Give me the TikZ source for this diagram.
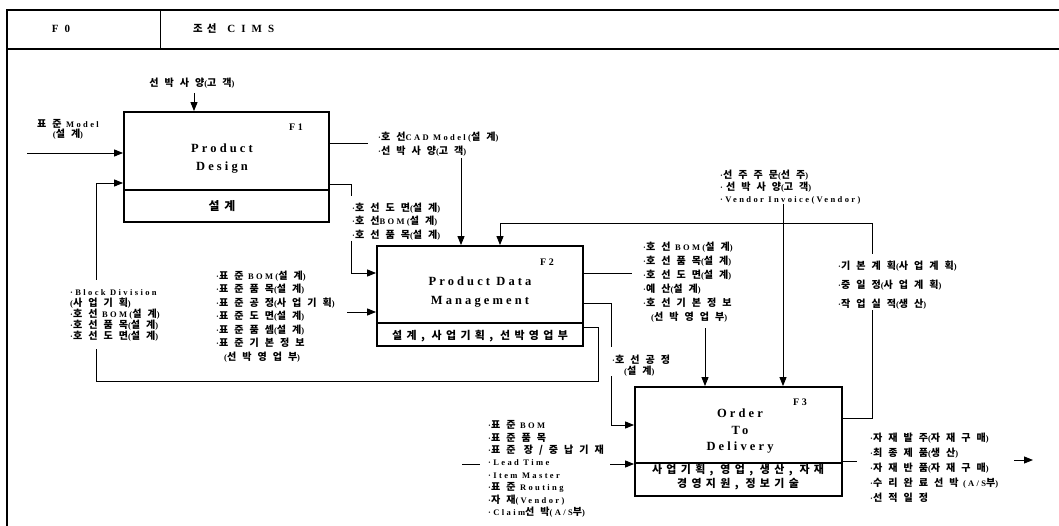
\documentclass[tikz,border=0pt]{standalone}
\usepackage{fontspec}
\usetikzlibrary{arrows.meta}
\setmainfont{Liberation Serif}
\newfontfamily\lblfont{Liberation Serif}[LetterSpace=28]
\newfontfamily\bigfont{Liberation Serif}[LetterSpace=25]
\newfontfamily\hdrfont{Liberation Serif}[LetterSpace=55]
\newfontfamily\krA{Noto Sans CJK KR}[Scale=1.18,LetterSpace=60]
\newfontfamily\krB{Noto Sans CJK KR}[Scale=0.95,LetterSpace=40]
\let\krsel\krA
\newcommand\hg[1]{{\krsel #1}}
\tikzset{
  ln/.style={line width=0.9pt},
  arr/.style={ln, -{Triangle[length=9pt,width=7pt]}},
  fbox/.style={draw, line width=1.8pt, inner sep=0pt},
  boxln/.style={line width=1.4pt},
  lbl/.style={font=\lblfont\bfseries\fontsize{8.5}{#1}\selectfont, align=left, inner sep=0pt, anchor=north west},
  lbl/.default=12,
  lblc/.style={font=\lblfont\bfseries\fontsize{8.5}{#1}\selectfont, align=center, inner sep=0pt},
  lblc/.default=10,
  title/.style={font=\bigfont\bfseries\fontsize{12.5}{#1}\selectfont, align=center, inner sep=0pt},
  title/.default=18,
  mech/.style={font=\let\krsel\krB\bigfont\bfseries\fontsize{11.5}{#1}\selectfont, align=center, inner sep=0pt},
  mech/.default=14,
  fnum/.style={font=\bigfont\bfseries\fontsize{10}{12}\selectfont, inner sep=0pt},
  hdr/.style={font=\let\krsel\krB\hdrfont\bfseries\fontsize{11}{12}\selectfont, inner sep=0pt},
}
\begin{document}
\begin{tikzpicture}[x=1pt,y=-1pt]
\useasboundingbox (0,0) rectangle (1059,526);
% frame
\coordinate (frTL) at (7,10);
\coordinate (frTR) at (1059,10);
\coordinate (frBL) at (7,530);
\coordinate (frHL) at (7,49);
\coordinate (frHR) at (1059,49);
\coordinate (frDT) at (160,10);
\coordinate (frDB) at (160,49);
\draw[line width=1.2pt] (frBL) -- (frTL) -- (frTR);
\draw[line width=2.4pt] (frHL) -- (frHR);
\draw[line width=1pt] (frDT) -- (frDB);
\node[hdr] (hF0) at (61,29) {F0};
\node[hdr, anchor=west] (hTitle) at (193,29) {\hg{조선}\hspace{2pt} CIMS};

% boxes
\node[fbox, minimum width=205pt, minimum height=110pt] (F1) at (226.5,167) {};
\node[fbox, minimum width=206pt, minimum height=100pt] (F2) at (480,296) {};
\node[fbox, minimum width=207pt, minimum height=109pt] (F3) at (738.5,441.5) {};
\draw[boxln] (F1.west |- 0,190) -- (F1.east |- 0,190);
\draw[boxln] (F2.west |- 0,323) -- (F2.east |- 0,323);
\draw[boxln] (F3.west |- 0,463) -- (F3.east |- 0,463);

\node[fnum] (F1n) at (296,127) {F1};
\node[title] (F1t) at (222,159) {Product\\Design};
\node[mech, font=\let\krsel\krB\bigfont\bfseries\fontsize{12.5}{14}\selectfont] (F1m) at (222,206) {\hg{설계}};
\node[fnum] (F2n) at (547,262) {F2};
\node[title=19] (F2t) at (480,292.5) {Product Data\\Management};
\node[mech] (F2m) at (480,336) {\hg{설계, 사업기획, 선박영업부}};
\node[fnum] (F3n) at (800,402) {F3};
\node[title=16.5] (F3t) at (740,431.5) {Order\\To\\Delivery};
\node[mech=13.5] (F3m) at (738,477) {\hg{사업기획, 영업, 생산, 자재}\\\hg{경영지원, 정보기술}};

% F1 inputs
\node[lblc] (tSpec) at (192,83) {\hg{선박사양}(\hg{고객})};
\coordinate (cSpec) at (194,93);
\draw[arr] (cSpec) -- (cSpec |- F1.north);
\node[lblc=10] (tStdModel) at (68,129) {\hg{표준} Model\\(\hg{설계})};
\coordinate (cStd) at (27,153);
\draw[arr] (cStd) -- (cStd -| F1.west);

% F1 output 1
\coordinate (c1a) at (368,143);
\draw[ln] (c1a -| F1.east) -- (c1a);
\node[lbl=14] (tCAD) at (378,131.5) {·\hg{호선}CAD Model(\hg{설계})\\·\hg{선박사양}(\hg{고객})};
\coordinate (c1b) at (461,158);
\draw[arr] (c1b) -- (c1b |- F2.north);

% F1 output 2
\coordinate (c2a) at (351,184);
\coordinate (c2b) at (351,196);
\draw[ln] (c2a -| F1.east) -- (c2a) -- (c2b);
\node[lbl=13.5] (tDwg) at (352,202.5) {·\hg{호선도면}(\hg{설계})\\·\hg{호선}BOM(\hg{설계})\\·\hg{호선품목}(\hg{설계})};
\coordinate (c2c) at (351,241);
\coordinate (c2d) at (351,273);
\draw[arr] (c2c) -- (c2d) -- (c2d -| F2.west);

% F2 standard inputs
\node[lbl=13.5] (tStdBOM) at (216,270.5) {·\hg{표준} BOM(\hg{설계})\\·\hg{표준품목}(\hg{설계})\\·\hg{표준공정}(\hg{사업기획})\\·\hg{표준도면}(\hg{설계})\\·\hg{표준품셈}(\hg{설계})\\·\hg{표준기본정보}\\\hspace*{8pt}(\hg{선박영업부})};
\coordinate (c3) at (347,312);
\draw[arr] (c3) -- (c3 -| F2.west);

% feedback F3 -> F2 top
\coordinate (c4a) at (872,418);
\coordinate (c4b) at (872,310);
\coordinate (c4c) at (872,254);
\coordinate (c4d) at (872,223);
\coordinate (c4e) at (500,223);
\draw[ln] (c4a -| F3.east) -- (c4a) -- (c4b);
\draw[arr] (c4c) -- (c4d) -- (c4e) -- (c4e |- F2.north);
\node[lbl=19] (tPlan) at (838,260.5) {·\hg{기본계획}(\hg{사업계획})\\·\hg{중일정}(\hg{사업계획})\\·\hg{작업실적}(\hg{생산})};

% F2 output 1
\coordinate (c5a) at (632,273);
\draw[ln] (c5a -| F2.east) -- (c5a);
\node[lbl=14] (tF2out) at (643,241.5) {·\hg{호선} BOM(\hg{설계})\\·\hg{호선품목}(\hg{설계})\\·\hg{호선도면}(\hg{설계})\\·\hg{예산}(\hg{설계})\\·\hg{호선기본정보}\\\hspace*{8pt}(\hg{선박영업부})};
\coordinate (c5b) at (705,328);
\draw[arr] (c5b) -- (c5b |- F3.north);

% F2 output 2
\coordinate (c6a) at (611,303);
\coordinate (c6b) at (611,347);
\draw[ln] (c6a -| F2.east) -- (c6a) -- (c6b);
\node[lbl=11] (tProc) at (612,354.5) {·\hg{호선공정}\\\hspace*{12pt}(\hg{설계})};
\coordinate (c6c) at (611,376);
\coordinate (c6d) at (611,425);
\draw[arr] (c6c) -- (c6d) -- (c6d -| F3.west);

% mechanism feedback F2 -> F1
\coordinate (c7a) at (598,327);
\coordinate (c7b) at (598,381);
\coordinate (c7c) at (96,381);
\coordinate (c7d) at (96,349);
\coordinate (c7e) at (96,280);
\coordinate (c7f) at (96,183);
\draw[ln] (c7a -| F2.east) -- (c7a) -- (c7b) -- (c7c) -- (c7d);
\draw[arr] (c7e) -- (c7f) -- (c7f -| F1.west);
\node[lbl=11] (tBlock) at (70,289.5) {·Block Division\\(\hg{사업기획})\\·\hg{호선} BOM(\hg{설계})\\·\hg{호선품목}(\hg{설계})\\·\hg{호선도면}(\hg{설계})};

% F3 top input
\node[lbl=12] (tOrder) at (720,169.5) {·\hg{선주주문}(\hg{선주})\\·\hspace*{3pt}\hg{선박사양}(\hg{고객})\\·Vendor Invoice(Vendor)};
\coordinate (c8) at (783,204);
\draw[arr] (c8) -- (c8 |- F3.north);

% F3 bottom inputs
\coordinate (c9a) at (462,464);
\coordinate (c9b) at (480,464);
\draw[ln] (c9a) -- (c9b);
\node[lbl=12.4] (tF3in) at (488,420.5) {·\hg{표준} BOM\\·\hg{표준품목}\\·\hg{표준 장/중납기재}\\·Lead Time\\·Item Master\\·\hg{표준} Routing\\·\hg{자재}(Vendor)\\·Claim\hg{선박}(A/S\hg{부})};
\coordinate (c9c) at (610,464);
\draw[arr] (c9c) -- (c9c -| F3.west);

% F3 outputs
\coordinate (c10) at (857,461);
\draw[ln] (c10 -| F3.east) -- (c10);
\node[lbl=15] (tF3out) at (870,432.5) {·\hg{자재발주}(\hg{자재구매})\\·\hg{최종제품}(\hg{생산})\\·\hg{자재반품}(\hg{자재구매})\\·\hg{수리완료선박} (A/S\hg{부})\\·\hg{선적일정}};
\coordinate (c11a) at (1014,460);
\coordinate (c11b) at (1033,460);
\draw[arr] (c11a) -- (c11b);
\end{tikzpicture}
\end{document}
